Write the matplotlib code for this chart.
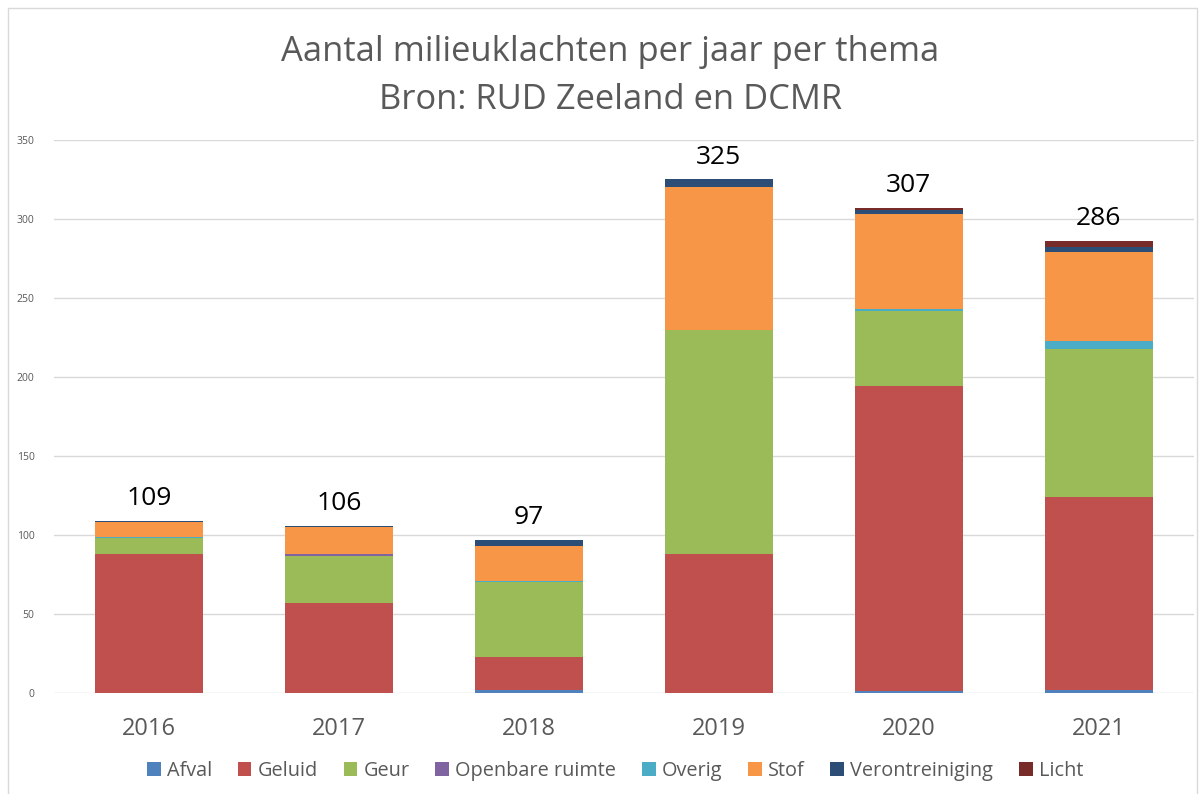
import matplotlib.pyplot as plt
import numpy as np

years = ['2016', '2017', '2018', '2019', '2020', '2021']
themes = ['Afval', 'Geluid', 'Geur', 'Openbare ruimte', 'Overig', 'Stof',
          'Verontreiniging', 'Licht']
afval = [0, 0, 2, 0, 1, 2]
geluid = [88, 57, 21, 88, 193, 122]
geur = [10, 30, 47, 142, 48, 94]
openbare_ruimte = [0, 1, 0, 0, 0, 0]
overig = [1, 0, 1, 0, 1, 5]
stof = [9, 17, 22, 90, 60, 56]
verontreiniging = [1, 1, 4, 5, 3, 3]
licht = [0, 0, 0, 0, 1, 4]
series = [afval, geluid, geur, openbare_ruimte, overig, stof, verontreiniging, licht]
colors = ['#4F81BD', '#C0504D', '#9BBB59', '#8064A2', '#4BACC6', '#F79646',
          '#2C4D75', '#772C2A']

plt.rcParams['font.family'] = ['Open Sans', 'DejaVu Sans']
grey = '#595959'

fig = plt.figure(figsize=(12.01, 7.94), dpi=100)
ax = fig.add_axes([0.045, 0.1272, 0.949, 0.6965])

x = np.arange(len(years))
bottom = np.zeros(len(years))
for name, vals, c in zip(themes, series, colors):
    ax.bar(x, vals, 0.57, bottom=bottom, color=c, label=name, linewidth=0)
    bottom += np.array(vals)

# totaal boven elke staaf
for xi, tot in zip(x, bottom):
    ax.annotate(f'{int(tot)}', (xi, tot), xytext=(0, 7), textcoords='offset points',
                ha='center', va='bottom', fontsize=19, color='black')

ax.set_xlim(-0.5, len(years) - 0.5)
ax.set_ylim(0, 350)
ax.set_yticks(np.arange(0, 351, 50))
ax.grid(axis='y', color='#D9D9D9', linewidth=1)
ax.set_axisbelow(True)
for s in ax.spines.values():
    s.set_visible(False)
ax.tick_params(axis='y', length=0, labelsize=7.5, labelcolor=grey, pad=14)
ax.tick_params(axis='x', length=0, labelsize=17, labelcolor=grey, pad=17)
ax.set_xticks(x)
ax.set_xticklabels(years)

fig.text(0.508, 0.935, 'Aantal milieuklachten per jaar per thema', ha='center',
         va='center', fontsize=24.8, color=grey)
fig.text(0.508, 0.874, 'Bron: RUD Zeeland en DCMR', ha='center',
         va='center', fontsize=24.8, color=grey)

fig.legend(loc='center', bbox_to_anchor=(0.512, 0.029), ncol=8, frameon=False,
           fontsize=14.3, labelcolor=grey, handlelength=0.7, handleheight=0.7,
           handletextpad=0.3, columnspacing=1.3)

fig.patches.append(plt.Rectangle((0.007, -0.01), 0.99, 1.0, transform=fig.transFigure,
                                 fill=False, edgecolor='#D9D9D9', linewidth=1))

fig.savefig('out.png', dpi=100)
